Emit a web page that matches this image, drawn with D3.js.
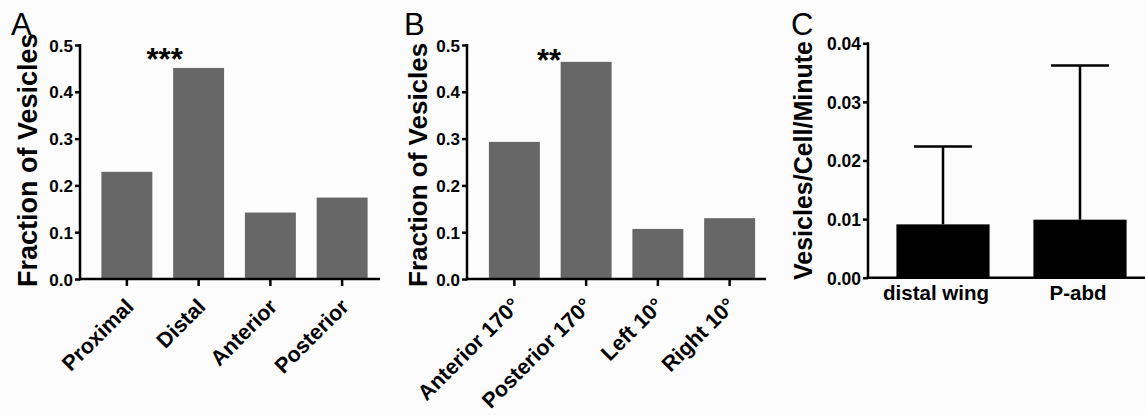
<!DOCTYPE html>
<html>
<head>
<meta charset="utf-8">
<script src="https://cdn.jsdelivr.net/npm/d3@7"></script>
<style>
  html, body { margin: 0; padding: 0; background: #fcfcfc; }
  svg { display: block; font-family: "Liberation Sans", Arial, Helvetica, sans-serif; }
</style>
</head>
<body>
<svg id="chart" width="1145" height="415"></svg>
<script>
// ---- data ----
const catsA = ["Proximal", "Distal", "Anterior", "Posterior"];
const valsA = [0.229, 0.451, 0.142, 0.174];
const catsB = ["Anterior 170°", "Posterior 170°", "Left 10°", "Right 10°"];
const valsB = [0.293, 0.464, 0.107, 0.130];
const catsC = ["distal wing", "P-abd"];
const valsC = [0.0091, 0.0099];
const errC = [0.0224, 0.0362];
const ticksAB = [0, 0.1, 0.2, 0.3, 0.4, 0.5];
const ticksC = [0, 0.01, 0.02, 0.03, 0.04];
const panelLetters = ["A", "B", "C"];
const yTitles = ["Fraction of Vesicles", "Fraction of Vesicles", "Vesicles/Cell/Minute"];
const starsA = "***";
const starsB = "**";

const svg = d3.select("#chart");
const AXW = 2.5;

function styleAxis(g) {
  g.selectAll("path.domain").remove();
  g.selectAll("line").attr("stroke", "#000").attr("stroke-width", AXW);
  g.selectAll("text").attr("fill", "#000").attr("font-weight", "bold");
}

function barPanel(opts) {
  const g = svg.append("g");
  const y = d3.scaleLinear().domain(opts.ydom).range([opts.y0, opts.y1]);
  const x = d3.scaleBand().domain(opts.cats).range(opts.xr)
    .paddingInner(opts.pin).paddingOuter(opts.pout);

  // bars
  g.selectAll("rect.bar").data(opts.vals).join("rect")
    .attr("class", "bar")
    .attr("x", (d, i) => x(opts.cats[i]))
    .attr("width", x.bandwidth())
    .attr("y", d => y(d))
    .attr("height", d => y(0) - y(d))
    .attr("fill", opts.fill);

  // error bars
  if (opts.err) {
    const cw = opts.capW;
    opts.err.forEach((e, i) => {
      const cx = x(opts.cats[i]) + x.bandwidth() / 2;
      g.append("line").attr("x1", cx).attr("x2", cx)
        .attr("y1", y(opts.vals[i])).attr("y2", y(e))
        .attr("stroke", "#000").attr("stroke-width", AXW);
      g.append("line").attr("x1", cx - cw / 2).attr("x2", cx + cw / 2)
        .attr("y1", y(e)).attr("y2", y(e))
        .attr("stroke", "#000").attr("stroke-width", AXW);
    });
  }

  // y axis
  const ya = g.append("g").attr("transform", `translate(${opts.ax},0)`)
    .call(d3.axisLeft(y).tickValues(opts.ticks).tickFormat(d3.format(opts.fmt))
      .tickSize(5).tickPadding(2).tickSizeOuter(0));
  styleAxis(ya);
  ya.selectAll("text").attr("font-size", opts.tickFs).attr("dy", "0.36em");
  g.append("line").attr("x1", opts.ax).attr("x2", opts.ax)
    .attr("y1", y(opts.ydom[1]) - 1).attr("y2", y(0) + AXW / 2)
    .attr("stroke", "#000").attr("stroke-width", AXW);

  // x axis
  const xa = g.append("g").attr("transform", `translate(0,${y(0)})`)
    .call(d3.axisBottom(x).tickSize(opts.xTick).tickSizeOuter(0));
  styleAxis(xa);
  g.append("line").attr("x1", opts.ax - AXW / 2).attr("x2", opts.xEnd)
    .attr("y1", y(0)).attr("y2", y(0))
    .attr("stroke", "#000").attr("stroke-width", AXW);

  if (opts.rotate) {
    xa.selectAll("text")
      .attr("font-size", opts.xFs)
      .attr("text-anchor", "end")
      .attr("y", 0).attr("dy", 0)
      .attr("transform", `translate(${opts.ldx},${opts.ldy}) rotate(-45)`);
  } else {
    xa.selectAll("text")
      .attr("font-size", opts.xFs)
      .attr("text-anchor", "middle")
      .attr("y", opts.ldy).attr("dy", 0)
      .attr("dx", (d, i) => opts.lshift ? opts.lshift[i] : 0);
  }

  // y title
  g.append("text")
    .attr("transform", `translate(${opts.titleX},${opts.titleY}) rotate(-90)`)
    .attr("text-anchor", "start")
    .attr("font-size", opts.titleFs)
    .attr("font-weight", "bold")
    .text(opts.title);

  // panel letter
  g.append("text").attr("x", opts.letterX).attr("y", 35)
    .attr("font-size", 31).attr("font-weight", "normal")
    .text(opts.letter);

  // stars
  if (opts.stars) {
    g.append("text")
      .attr("x", x(opts.starCat) + x.bandwidth() / 2 + opts.starDx)
      .attr("y", opts.starY)
      .attr("text-anchor", "middle")
      .attr("font-size", 31).attr("font-weight", "bold")
      .text(opts.stars);
  }
  return g;
}

barPanel({
  cats: catsA, vals: valsA, ydom: [0, 0.5], y0: 279, y1: 45,
  xr: [91, 378], pin: 0.29, pout: 0.145, fill: "#676767",
  ax: 80, xEnd: 380, ticks: ticksAB, fmt: ".1f", tickFs: 17,
  xTick: 7, xFs: 21.5, rotate: true, ldx: 8, ldy: 29,
  title: yTitles[0], titleX: 37, titleY: 287, titleFs: 27,
  letter: panelLetters[0], letterX: 11,
  stars: starsA, starCat: "Distal", starDx: -34, starY: 70
});

barPanel({
  cats: catsB, vals: valsB, ydom: [0, 0.5], y0: 279, y1: 45,
  xr: [478.5, 765.5], pin: 0.29, pout: 0.145, fill: "#676767",
  ax: 467, xEnd: 766, ticks: ticksAB, fmt: ".1f", tickFs: 17,
  xTick: 7, xFs: 21.5, rotate: true, ldx: 7, ldy: 28,
  title: yTitles[1], titleX: 427, titleY: 287, titleFs: 26,
  letter: panelLetters[1], letterX: 404,
  stars: starsB, starCat: "Posterior 170°", starDx: -37, starY: 71
});

barPanel({
  cats: catsC, vals: valsC, err: errC, capW: 58, ydom: [0, 0.04], y0: 277.7, y1: 43.3,
  xr: [874.5, 1148.5], pin: 0.32, pout: 0.16, fill: "#000",
  ax: 868, xEnd: 1145, ticks: ticksC, fmt: ".2f", tickFs: 17.5,
  xTick: 0, xFs: 20.5, rotate: false, ldx: 0, ldy: 22, lshift: [-7, -2],
  title: yTitles[2], titleX: 812, titleY: 280, titleFs: 25,
  letter: panelLetters[2], letterX: 791
});
</script>
</body>
</html>
